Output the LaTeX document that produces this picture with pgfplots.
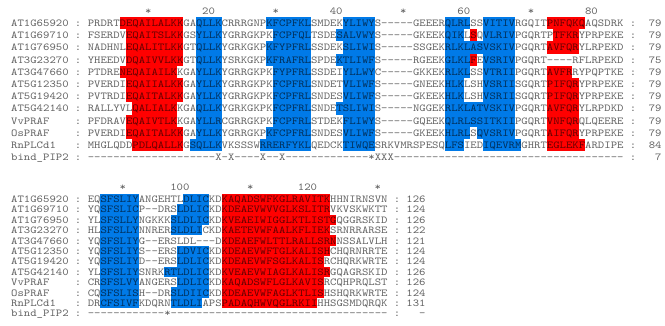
\documentclass[border=0pt]{standalone}
\usepackage{fontspec}
\usepackage{pgfplots}
\pgfplotsset{compat=1.18}
\newfontfamily\seqf{Latin Modern Mono}[FakeStretch=1.146]
\definecolor{hred}{RGB}{255,0,0}
\definecolor{hblue}{RGB}{0,122,232}
% highlight: base y, row spacing, first row, last row, first col, last col, colour
\newcommand{\hl}[7]{%
  \pgfmathsetmacro{\ya}{#1+(#3-1.5)*#2}%
  \pgfmathsetmacro{\yb}{#1+(#4-0.5)*#2}%
  \pgfmathsetmacro{\xa}{#5-1}%
  \addplot[fill=#7,draw=none,forget plot] coordinates {(\xa,\ya) (#6,\ya) (#6,\yb) (\xa,\yb)} -- cycle;}
\newcommand{\hlT}[5]{\hl{23}{12.2}{#1}{#2}{#3}{#4}{#5}}
\newcommand{\hlB}[5]{\hl{199}{10.4}{#1}{#2}{#3}{#4}{#5}}
\tikzset{
  seqt/.style={anchor=base west, inner sep=0pt, font={\seqf\fontsize{10.6}{12}\selectfont}, text=black, text opacity=0.62},
  seqm/.style={seqt, anchor=base},
  seqr/.style={seqt, anchor=base east}}
\newcommand{\seqrow}[6]{%
  \node[seqt] at (axis cs:-12,#1) {#2};
  \node[seqm] at (axis cs:-1.5,#1) {:};
  \node[seqt] at (axis cs:0,#1) {#3};
  \node[seqm] at (axis cs:#4,#1) {:};
  \node[seqr] at (axis cs:#5,#1) {#6};}
\begin{document}
\begin{tikzpicture}
\begin{axis}[width=665pt, height=325pt, scale only axis, hide axis, clip=false,
  xmin=-13.73, xmax=90.5, ymin=0, ymax=325, y dir=reverse]
\addplot[fill=white,draw=none,forget plot] coordinates {(-13.73,0) (90.5,0) (90.5,325) (-13.73,325)} -- cycle;
% ---------- top block ----------
\hlT{1}{1}{6}{15}{hred}
\hlT{2}{4}{7}{15}{hred}
\hlT{5}{5}{6}{14}{hred}
\hlT{6}{7}{7}{15}{hred}
\hlT{8}{8}{8}{14}{hred}
\hlT{9}{9}{7}{14}{hred}
\hlT{10}{10}{7}{15}{hred}
\hlT{11}{11}{8}{15}{hred}
\hlT{1}{10}{18}{21}{hblue}
\hlT{11}{11}{17}{21}{hblue}
\hlT{1}{1}{29}{35}{hblue}
\hlT{2}{2}{30}{35}{hblue}
\hlT{3}{4}{29}{35}{hblue}
\hlT{5}{9}{30}{35}{hblue}
\hlT{10}{10}{29}{35}{hblue}
\hlT{11}{11}{28}{35}{hblue}
\hlT{1}{1}{41}{45}{hblue}
\hlT{2}{2}{40}{45}{hblue}
\hlT{3}{3}{41}{45}{hblue}
\hlT{4}{4}{40}{45}{hblue}
\hlT{5}{7}{41}{45}{hblue}
\hlT{8}{8}{40}{45}{hblue}
\hlT{9}{11}{41}{45}{hblue}
\hlT{1}{1}{57}{60}{hblue}
\hlT{2}{2}{57}{59}{hblue}
\hlT{3}{3}{57}{67}{hblue}
\hlT{4}{5}{57}{60}{hblue}
\hlT{6}{7}{57}{59}{hblue}
\hlT{8}{9}{57}{67}{hblue}
\hlT{10}{10}{57}{60}{hblue}
\hlT{11}{11}{57}{59}{hblue}
\hlT{1}{2}{63}{67}{hblue}
\hlT{4}{7}{63}{67}{hblue}
\hlT{10}{10}{62}{67}{hblue}
\hlT{11}{11}{63}{68}{hblue}
\hlT{2}{2}{61}{61}{hred}
\hlT{4}{4}{61}{61}{hred}
\hlT{1}{1}{73}{78}{hred}
\hlT{2}{2}{74}{77}{hred}
\hlT{3}{3}{73}{77}{hred}
\hlT{5}{5}{73}{76}{hred}
\hlT{6}{10}{73}{77}{hred}
\hlT{11}{11}{73}{78}{hred}
% ---------- bottom block ----------
\hlB{1}{11}{3}{8}{hblue}
\hlB{1}{1}{16}{19}{hblue}
\hlB{2}{2}{15}{19}{hblue}
\hlB{3}{3}{14}{19}{hblue}
\hlB{4}{4}{14}{18}{hblue}
\hlB{6}{7}{15}{19}{hblue}
\hlB{8}{8}{13}{19}{hblue}
\hlB{9}{9}{15}{19}{hblue}
\hlB{10}{10}{14}{19}{hblue}
\hlB{11}{11}{14}{18}{hblue}
\hlB{1}{2}{22}{38}{hred}
\hlB{3}{3}{22}{39}{hred}
\hlB{4}{4}{22}{38}{hred}
\hlB{5}{5}{22}{39}{hred}
\hlB{6}{6}{22}{38}{hred}
\hlB{7}{7}{22}{37}{hred}
\hlB{8}{8}{22}{38}{hred}
\hlB{9}{10}{22}{37}{hred}
\hlB{11}{11}{22}{36}{hred}
% ---------- text: top block ----------
\node[seqm] at (axis cs:9.5,14.4) {*};
\node[seqr] at (axis cs:20,14.4) {20};
\node[seqm] at (axis cs:29.5,14.4) {*};
\node[seqr] at (axis cs:40,14.4) {40};
\node[seqm] at (axis cs:49.5,14.4) {*};
\node[seqr] at (axis cs:60,14.4) {60};
\node[seqm] at (axis cs:69.5,14.4) {*};
\node[seqr] at (axis cs:80,14.4) {80};
\seqrow{26.4}{AT1G65920}{PRDRTDEQAILALKKGAQLLKCRRRGNPKFCPFKLSMDEKYLIWYS-----GEEERQLRLSSVITIVRGQITPNFQKQAQSDRK}{85.5}{90}{79}
\seqrow{38.6}{AT1G69710}{FSERDVEQAITSLKKGSYLLKYGRRGKPKFCPFQLTSDESALVWYS-----GKEEKQIKLSQVLRIVPGQRTPTFKRYPRPEKE}{85.5}{90}{79}
\seqrow{50.8}{AT1G76950}{NADHNLEQALITLKKGTQLLKYGRKGKPKFYPFRLSSDEKSLIWIS-----SSGEKRLKLASVSKIVPGQRTAVFQRYLRPEKD}{85.5}{90}{79}
\seqrow{63.0}{AT3G23270}{YHEEDVDQAIVVLKKGTQLLKYSRKGKPKFRAFRLSPDEKTLIWFS-----RGEEKGLKLFEVSRIVPGQRT----RFLRPEKD}{85.5}{90}{75}
\seqrow{75.2}{AT3G47660}{PTDRENEQAIAILKKGAYLLKYGRRGKPKFYPFRLSSDEIYLLWYC-----GKKEKRLKLSSVTRIIPGQRTAVFRRYPQPTKE}{85.5}{90}{79}
\seqrow{87.4}{AT5G12350}{PVERDIEQAIIALKKGAYLLKYGRRGKPKFCPFRLSNDETVLIWFS-----GNEEKHLKLSHVSRIISGQRTPIFQRYPRPEKE}{85.5}{90}{79}
\seqrow{99.6}{AT5G19420}{PVTRDIEQAITALKKGAYLLKYGRRGKPKFCPFRLSNDESVLIWFS-----GKEEKHLKLSHVSRIISGQRTPIFQRYPRPEKE}{85.5}{90}{79}
\seqrow{111.8}{AT5G42140}{RALLYVLQALIALKKGAQLLKYGRKGKPKFCPFRLSNDETSLIWIS-----NGGEKRLKLATVSKIVPGQRTAVFQRYLRPDKD}{85.5}{90}{79}
\seqrow{124.0}{VvPRAF}{PFDRAVEQAIVTLKKGAYLLRCGRRGKPKFCPFRLSTDEKFLIWYS-----GQEEKQLRLSSITKIIPGQRTVNFQRQLQEERE}{85.5}{90}{79}
\seqrow{136.2}{OsPRAF}{PVERDIEQAITALKKGAYLLKYGRRGKPKFCPFRLSNDESVLIWFS-----GKEEKHLRLSQVSRIVPGQRTAIFQRYPRPEKE}{85.5}{90}{79}
\seqrow{148.4}{RnPLCd1}{MHGLQDDPDLQALLKGSQLLKVKSSSWRRERFYKLQEDCKTIWQESRKVMRSPESQLFSIEDIQEVRMGHRTEGLEKFARDIPE}{85.5}{90}{84}
\seqrow{160.6}{bind\_PIP2}{--------------------X-X----X--X-------------*XXX------------------------------------}{85.5}{90}{7}
% ---------- text: bottom block ----------
\node[seqm] at (axis cs:5.5,190.9) {*};
\node[seqr] at (axis cs:16,190.9) {100};
\node[seqm] at (axis cs:25.5,190.9) {*};
\node[seqr] at (axis cs:36,190.9) {120};
\node[seqm] at (axis cs:45.5,190.9) {*};
\seqrow{202.4}{AT1G65920}{EQSFSLIYANGEHTLDLICKDKAQADSWFKGLRAVITKHHNIRNSVN}{48.5}{53}{126}
\seqrow{212.8}{AT1G69710}{YQSFSLICP--DRSLDLICKDKDEAEVWVVGLKSLITRVKVSKWKTT}{48.5}{53}{124}
\seqrow{223.2}{AT1G76950}{YLSFSLLYNGKKKSLDLICKDKVEAEIWIGGLKTLISTGQGGRSKID}{48.5}{53}{126}
\seqrow{233.6}{AT3G23270}{HLSFSLLYNNRERSLDLICKDKAETEVWFAALKFLIEKSRNRRARSE}{48.5}{53}{122}
\seqrow{244.0}{AT3G47660}{YQSFSLIYG--ERSLDL---DKDEAEFWLTTLRALLSRNNSSALVLH}{48.5}{53}{121}
\seqrow{254.4}{AT5G12350}{YQSFSLIYS--ERSLDVICKDKDEAEVWFTGLKALISHCHQRNRRTE}{48.5}{53}{124}
\seqrow{264.8}{AT5G19420}{YQSFSLIYD--ERSLDLICKDKDEAEVWFSGLKALISRCHQRKWRTE}{48.5}{53}{124}
\seqrow{275.2}{AT5G42140}{YLSFSLIYSNRKRTLDLICKDKVEAEVWIAGLKALISRGQAGRSKID}{48.5}{53}{126}
\seqrow{285.6}{VvPRAF}{CRSFSLVYANGERSLDLICKDKAQADSWFLGLKAVISRCQHPRQLST}{48.5}{53}{126}
\seqrow{296.0}{OsPRAF}{CQSFSLISH--DRSLDIICKDKDEAEVWFAGLKTLISHSHQRKWRTE}{48.5}{53}{124}
\seqrow{306.4}{RnPLCd1}{DRCFSIVFKDQRNTLDLIAPSPADAQHWVQGLRKIIHHSGSMDQRQK}{48.5}{53}{131}
\seqrow{316.8}{bind\_PIP2}{------------*----------------------------------}{48.5}{53}{-}
\end{axis}
\pgfresetboundingbox
\path[use as bounding box] (current axis.south west) rectangle (current axis.north east);
\end{tikzpicture}
\end{document}
